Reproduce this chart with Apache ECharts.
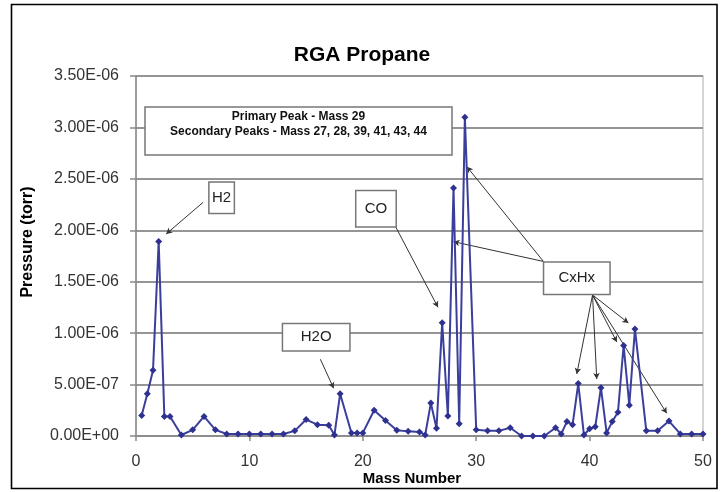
<!DOCTYPE html>
<html><head><meta charset="utf-8">
<script src="https://cdn.jsdelivr.net/npm/echarts@6/dist/echarts.min.js"></script>
<style>html,body{margin:0;padding:0;background:#fff}#c{width:722px;height:492px}</style>
</head><body><div id="c"></div>
<script>
var titleText = 'RGA Propane';
var xTitle = 'Mass Number';
var yTitle = 'Pressure (torr)';
var noteLines = ['Primary Peak - Mass 29', 'Secondary Peaks - Mass 27, 28, 39, 41, 43, 44'];
var masses = [0.5,1,1.5,2,2.5,3,4,5,6,7,8,9,10,11,12,13,14,15,16,17,17.5,18,19,19.5,20,21,22,23,24,25,25.5,26,26.5,27,27.5,28,28.5,29,30,31,32,33,34,35,36,37,37.5,38,38.5,39,39.5,40,40.5,41,41.5,42,42.5,43,43.5,44,45,46,47,48,49,50];
var pressures = [2.0e-7,4.1e-7,6.4e-7,1.89e-6,1.9e-7,1.9e-7,1e-8,6e-8,1.9e-7,6e-8,2e-8,2e-8,2e-8,2e-8,2e-8,2e-8,5e-8,1.6e-7,1.1e-7,1.05e-7,1e-8,4.1e-7,3e-8,3e-8,3e-8,2.5e-7,1.5e-7,5.5e-8,4.5e-8,4e-8,1e-8,3.2e-7,7.5e-8,1.10e-6,1.95e-7,2.41e-6,1.2e-7,3.10e-6,6e-8,5e-8,5e-8,8e-8,0,0,0,8e-8,2e-8,1.4e-7,1.1e-7,5.1e-7,1e-8,7e-8,9e-8,4.7e-7,3e-8,1.4e-7,2.3e-7,8.8e-7,3.0e-7,1.04e-6,5e-8,5e-8,1.45e-7,2e-8,2e-8,2e-8];
// callout labels and their anchor (mass, pressure)
var calloutLabels = ['H2','CO','H2O','CxHx'];
var calloutMass = [7.55,21.16,15.89,38.87];
var calloutPressure = [2.316e-6,2.21e-6,0.961e-6,1.533e-6];
// arrows: from (mass, pressure) to (mass, pressure)
var arrowFromMass = [5.92,22.89,16.26,35.93,35.93,40.26,40.26,40.26,40.26,40.26];
var arrowFromP = [2.272e-6,2.035e-6,0.746e-6,1.697e-6,1.697e-6,1.371e-6,1.371e-6,1.371e-6,1.371e-6,1.371e-6];
var arrowToMass = [2.66,26.63,17.43,29.18,28.0,38.87,40.63,42.4,43.42,46.8];
var arrowToP = [1.964e-6,1.251e-6,0.464e-6,2.618e-6,1.889e-6,0.603e-6,0.554e-6,0.914e-6,1.099e-6,0.221e-6];

var boxStyle = {H2:[24,30],CO:[39,35],H2O:[66,26],CxHx:[65,31]};
var points = masses.map(function(m,i){return [m,pressures[i]];});
var FONT = '"Liberation Sans", Arial, sans-serif';
function fmt(v){
  if (v === 0) return '0.00E+00';
  var s = v.toExponential(2).toUpperCase();
  return s.replace(/E([+-])(\d)$/, 'E$10$2');
}
var chart = echarts.init(document.getElementById('c'), null, {renderer:'canvas'});
chart.setOption({
  animation:false,
  backgroundColor:'#fff',
  grid:{left:136,right:19,top:76,bottom:56,show:true,borderColor:'#c8c8c8',borderWidth:1.5,backgroundColor:'transparent'},
  xAxis:{type:'value',min:0,max:50,interval:10,
    axisLine:{lineStyle:{color:'#8a8a8a',width:1.5}},
    axisTick:{show:true,length:5,lineStyle:{color:'#8a8a8a',width:1.5}},
    axisLabel:{fontFamily:FONT,fontSize:16,color:'#333',margin:18},
    splitLine:{show:false}},
  yAxis:{type:'value',min:0,max:3.5e-6,interval:0.5e-6,
    axisLine:{show:true,lineStyle:{color:'#8a8a8a',width:1.5}},
    axisTick:{show:true,length:6,lineStyle:{color:'#8a8a8a',width:1.5}},
    axisLabel:{fontFamily:FONT,fontSize:16,color:'#333',margin:17,formatter:fmt},
    splitLine:{show:true,lineStyle:{color:'#959595',width:1.8}}},
  graphic:[
    {type:'rect',shape:{x:11.5,y:4.5,width:705.5,height:484},style:{fill:'none',stroke:'#000',lineWidth:1.6},z:-1},
    {type:'text',x:362,y:55,style:{text:titleText,font:'bold 21px '+FONT,fill:'#000',align:'center',verticalAlign:'middle'}},
    {type:'text',x:412,y:479,style:{text:xTitle,font:'bold 15px '+FONT,fill:'#000',align:'center',verticalAlign:'middle'}},
    {type:'text',x:28,y:242,rotation:Math.PI/2,style:{text:yTitle,font:'bold 16px '+FONT,fill:'#000',align:'center',verticalAlign:'middle'}},
    {type:'rect',shape:{x:145,y:107,width:307,height:48},style:{fill:'#fff',stroke:'#777',lineWidth:1.5},z:50},
    {type:'text',x:298.5,y:117,style:{text:noteLines[0],font:'bold 12px '+FONT,fill:'#111',align:'center',verticalAlign:'middle'},z:51},
    {type:'text',x:298.5,y:132,style:{text:noteLines[1],font:'bold 12px '+FONT,fill:'#111',align:'center',verticalAlign:'middle'},z:51}
  ],
  series:[{
    type:'line',data:points,symbol:'diamond',symbolSize:7,
    lineStyle:{color:'#3b3f9c',width:2},
    itemStyle:{color:'#2e318f'},
    z:5,
    markLine:{silent:true,symbol:['none','arrow'],symbolSize:[5,6],
      lineStyle:{color:'#333',width:1,type:'solid'},label:{show:false},
      data:arrowFromMass.map(function(m,i){return [{coord:[m,arrowFromP[i]]},{coord:[arrowToMass[i],arrowToP[i]]}];})},
    markPoint:{silent:true,symbol:'rect',symbolSize:0,
      label:{show:true,position:'inside',fontFamily:FONT,fontSize:15,color:'#222',
        backgroundColor:'#fff',borderColor:'#777',borderWidth:1.5,padding:0,align:'center',verticalAlign:'middle',lineHeight:16},
      data:calloutLabels.map(function(c,i){
        var s = boxStyle[c];
        return {name:c,coord:[calloutMass[i],calloutPressure[i]],
          label:{formatter:c,width:s[0],height:s[1],lineHeight:s[1]}};
      })}
  }]
});
</script></body></html>
